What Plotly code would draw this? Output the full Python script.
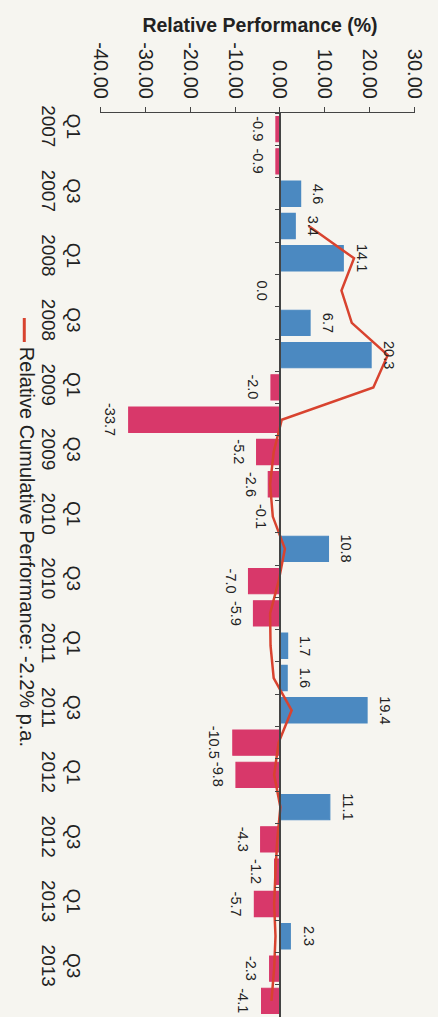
import plotly.graph_objects as go

# ---------------- data ----------------
quarters = [
    "Q1 2007", "Q2 2007", "Q3 2007", "Q4 2007",
    "Q1 2008", "Q2 2008", "Q3 2008", "Q4 2008",
    "Q1 2009", "Q2 2009", "Q3 2009", "Q4 2009",
    "Q1 2010", "Q2 2010", "Q3 2010", "Q4 2010",
    "Q1 2011", "Q2 2011", "Q3 2011", "Q4 2011",
    "Q1 2012", "Q2 2012", "Q3 2012", "Q4 2012",
    "Q1 2013", "Q2 2013", "Q3 2013", "Q4 2013",
]
relative_perf = [
    -0.9, -0.9, 4.6, 3.4,
    14.1, 0.0, 6.7, 20.3,
    -2.0, -33.7, -5.2, -2.6,
    -0.1, 10.8, -7.0, -5.9,
    1.7, 1.6, 19.4, -10.5,
    -9.8, 11.1, -4.3, -1.2,
    -5.7, 2.3, -2.3, -4.1,
]
cumulative_perf = [
    None, None, None, 6.4,
    16.5, 13.7, 16.0, 24.0,
    20.8, 0.4, -1.4, -2.2,
    -1.6, 1.1, -0.3, -2.2,
    -2.1, -1.4, 2.6, -0.3,
    -1.3, 0.1, -0.6, -1.0,
    -1.3, -1.0, -1.3, -1.9,
]
value_ticks = [-40, -30, -20, -10, 0, 10, 20, 30]
axis_title = "Relative Performance (%)"
legend_label = "Relative Cumulative Performance: -2.2% p.a."

# ---------------- style ----------------
W, H = 438, 1017
X_MIN, X_MAX = -40, 30
DOM = [95 / W, 425 / W]
TOP = 113
BLUE = "#4b89c1"
PINK = "#d8386a"
LINE = "#d8432f"
BG = "#f6f5f0"
TXT = "#222222"
SANS = "Liberation Sans, Arial, sans-serif"


def py(pixel_y):
    """figure pixel row -> paper fraction (plot area spans TOP..H)"""
    return 1 - (pixel_y - TOP) / (H - TOP)


zero_pos = DOM[0] + (0 - X_MIN) / (X_MAX - X_MIN) * (DOM[1] - DOM[0])
bar_colors = [BLUE if v > 0 else PINK for v in relative_perf]
label_vals = [q for q in quarters if q.startswith(("Q1", "Q3"))]
label_text = [q.replace(" ", "<br>") for q in label_vals]
value_tick_text = [f"{v:.2f}" for v in value_ticks]

fig = go.Figure()
fig.add_trace(go.Bar(
    x=relative_perf, y=quarters, orientation="h",
    marker=dict(color=bar_colors, line=dict(color=bar_colors, width=1.2)),
    xaxis="x", yaxis="y", showlegend=False, hoverinfo="skip",
))
fig.add_trace(go.Scatter(
    x=cumulative_perf, y=quarters, mode="lines",
    line=dict(color=LINE, width=2.5),
    xaxis="x", yaxis="y2", showlegend=False, hoverinfo="skip",
))

annotations = []
for q, v in zip(quarters, relative_perf):
    pos = v > 0
    annotations.append(dict(
        x=v, y=q, xref="x", yref="y", text=f"{v:.1f}", showarrow=False,
        textangle=90, xanchor="left" if pos else "right", yanchor="middle",
        xshift=8 if pos else -8,
        font=dict(family=SANS, size=14.5, color=TXT),
    ))
annotations.append(dict(
    x=18 / W, y=py(345), xref="paper", yref="paper", text=legend_label,
    showarrow=False, textangle=90, xanchor="center", yanchor="top",
    font=dict(family=SANS, size=20, color=TXT),
))

fig.update_layout(
    width=W, height=H,
    margin=dict(l=0, r=0, t=TOP, b=0),
    paper_bgcolor=BG, plot_bgcolor=BG,
    bargap=0.22,
    title=dict(text=f"<b>{axis_title}</b>", x=260 / W, xref="container", xanchor="center",
               y=1 - 25 / H, yref="container", yanchor="middle",
               font=dict(family=SANS, size=19.5, color=TXT)),
    xaxis=dict(
        domain=DOM, range=[X_MIN, X_MAX], side="top", anchor="y",
        tickvals=value_ticks, ticktext=value_tick_text, tickangle=90,
        ticks="outside", ticklen=5, tickcolor="#444", tickwidth=1.2,
        showline=True, linecolor="#444", linewidth=1.2,
        showgrid=False, zeroline=False,
        tickfont=dict(family=SANS, size=20, color=TXT),
        ticklabelstandoff=1,
    ),
    yaxis=dict(
        domain=[0, 1], type="category", categoryarray=quarters,
        range=[len(quarters) - 0.5, -0.5], anchor="free", position=80 / W,
        tickvals=label_vals, ticktext=label_text, tickangle=90,
        ticks="", showline=False, showgrid=False, zeroline=False,
        tickfont=dict(family=SANS, size=19, color=TXT),
    ),
    yaxis2=dict(
        domain=[0, 1], type="category", categoryarray=quarters,
        range=[len(quarters) - 0.5, -0.5], overlaying="y",
        anchor="free", position=zero_pos, side="left",
        showticklabels=False, ticks="outside", tickson="boundaries",
        ticklen=4, tickcolor="#444", tickwidth=1.2,
        showline=True, linecolor="#444", linewidth=1.5,
        showgrid=False, zeroline=False,
    ),
    shapes=[dict(type="line", xref="paper", yref="paper",
                 x0=15 / W, x1=15 / W, y0=py(318), y1=py(342),
                 line=dict(color=LINE, width=3))],
    annotations=annotations,
)

fig.write_html("out.html")
